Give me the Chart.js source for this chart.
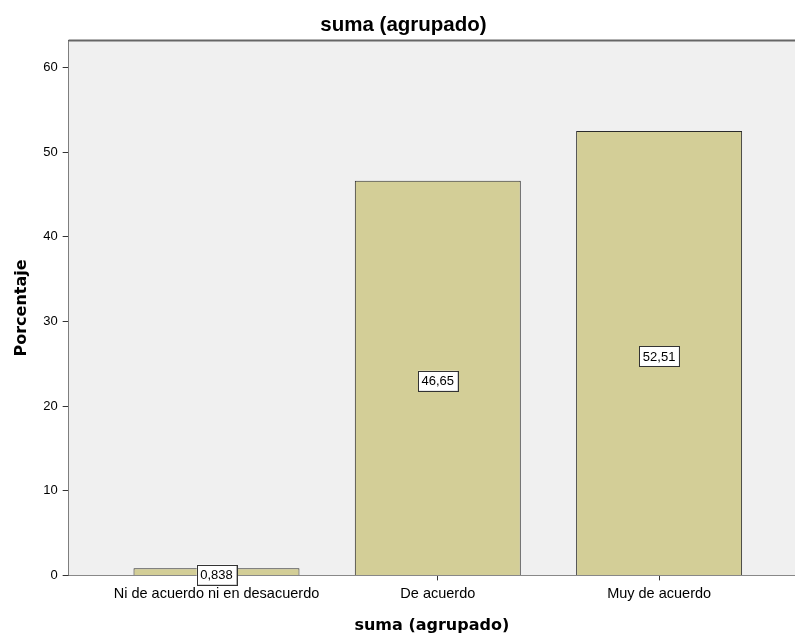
<!DOCTYPE html>
<html>
<head>
<meta charset="utf-8">
<script src="https://cdn.jsdelivr.net/npm/chart.js@4.4.1/dist/chart.umd.min.js"></script>
<style>
  html, body { margin: 0; padding: 0; background: #fff; }
  #wrap { width: 795px; height: 635px; }
</style>
</head>
<body>
<div id="wrap"><canvas id="myBarChart" width="795" height="635"></canvas></div>
<script>
var categories = ["Ni de acuerdo ni en desacuerdo", "De acuerdo", "Muy de acuerdo"];
var percentages = [0.838, 46.65, 52.51];
var valueLabels = ["0,838", "46,65", "52,51"];
var yTicks = [0, 10, 20, 30, 40, 50, 60];

// plot area background + top frame line
var frame = {
    id: 'frame',
    beforeDatasetsDraw: function(chart){
        var a = chart.chartArea, c = chart.ctx;
        c.save();
        c.fillStyle = '#f0f0f0';
        c.fillRect(a.left, a.top, a.right - a.left, a.bottom - a.top);
        c.strokeStyle = '#666';
        c.lineWidth = 2;
        c.beginPath();
        c.moveTo(a.left, a.top);
        c.lineTo(a.right, a.top);
        c.stroke();
        c.restore();
    }
};

// boxed value labels in the middle of each bar
var boxLabels = {
    id: 'boxLabels',
    afterDatasetsDraw: function(chart){
        var c = chart.ctx;
        var meta = chart.getDatasetMeta(0);
        c.save();
        c.font = '13px "Liberation Sans", Arial, sans-serif';
        c.textAlign = 'center';
        c.textBaseline = 'middle';
        meta.data.forEach(function(bar, i){
            var txt = valueLabels[i];
            var w = c.measureText(txt).width + 7;
            var h = 20;
            var x = bar.x;
            var y = (bar.y + bar.base) / 2 + 3;
            c.fillStyle = '#999';
            c.fillRect(x - w/2 + 1, y - h/2 + 1, w, h);
            c.fillStyle = '#fff';
            c.fillRect(x - w/2, y - h/2, w, h);
            c.strokeStyle = '#333';
            c.lineWidth = 1;
            c.strokeRect(Math.round(x - w/2) + 0.5, Math.round(y - h/2) + 0.5, Math.round(w), h);
            c.fillStyle = '#000';
            c.fillText(txt, x, y + 1);
        });
        c.restore();
    }
};

var ctx = document.getElementById("myBarChart");
var myBarChart = new Chart(ctx, {
    type: 'bar',
    data: {
        datasets: [{
            label: 'Porcentaje',
            data: percentages.map(function(v, i){ return {x: i, y: v}; }),
            backgroundColor: '#d3ce97',
            borderColor: '#2b2b2b',
            borderWidth: 1,
            borderSkipped: 'bottom',
            barPercentage: 0.75,
            categoryPercentage: 1
        }]
    },
    plugins: [frame, boxLabels],
    options: {
        responsive: false,
        animation: false,
        devicePixelRatio: 1,
        layout: { padding: { left: 12, right: 0, top: 0, bottom: 0 } },
        plugins: {
            legend: { display: false },
            tooltip: { enabled: false },
            title: {
                display: true,
                text: 'suma (agrupado)',
                color: '#000',
                font: { family: '"Liberation Sans", Arial, sans-serif', size: 20.5, weight: 'bold' },
                padding: { top: 13, bottom: 3 }
            }
        },
        scales: {
            x: {
                type: 'linear',
                offset: false,
                min: -0.668,
                max: 2.614,
                afterBuildTicks: function(scale){
                    scale.ticks = categories.map(function(c, i){ return {value: i}; });
                },
                ticks: {
                    color: '#000',
                    padding: 5,
                    font: { family: '"Liberation Sans", Arial, sans-serif', size: 14.5 },
                    callback: function(value){ return categories[value]; },
                    maxRotation: 0,
                    autoSkip: false
                },
                grid: { offset: false, drawOnChartArea: false, drawTicks: true, tickLength: 5, color: '#333' },
                border: { color: '#444', width: 2 },
                title: {
                    display: true,
                    text: 'suma (agrupado)',
                    color: '#000',
                    font: { family: '"DejaVu Sans", Verdana, sans-serif', size: 16, weight: 'bold' },
                    padding: { top: 8, bottom: 0 }
                }
            },
            y: {
                min: 0,
                max: 63.2,
                afterBuildTicks: function(scale){
                    scale.ticks = yTicks.map(function(v){ return {value: v}; });
                },
                ticks: {
                    color: '#000',
                    padding: 5,
                    font: { family: '"Liberation Sans", Arial, sans-serif', size: 13 }
                },
                grid: { drawOnChartArea: false, drawTicks: true, tickLength: 6, color: '#333' },
                border: { color: '#444', width: 2 },
                title: {
                    display: true,
                    text: 'Porcentaje',
                    color: '#000',
                    font: { family: '"DejaVu Sans", Verdana, sans-serif', size: 16, weight: 'bold' },
                    padding: { top: 0, bottom: 7 }
                }
            }
        }
    }
});
</script>
</body>
</html>
